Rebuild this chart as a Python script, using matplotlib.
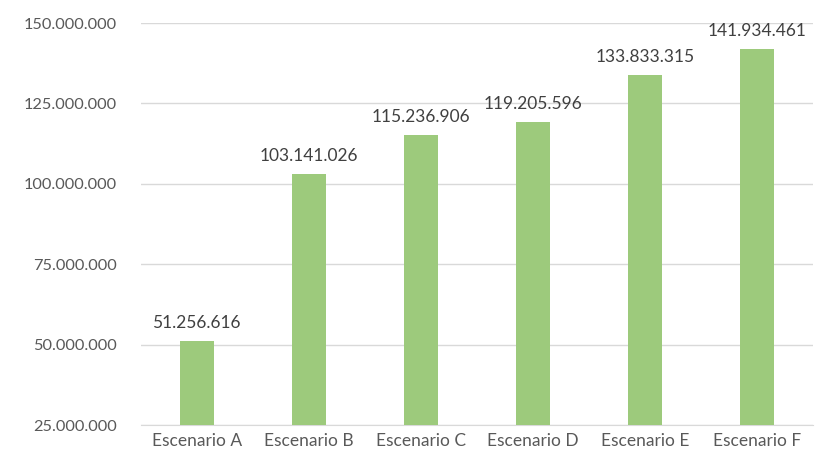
import matplotlib
matplotlib.use("Agg")
import matplotlib.pyplot as plt
from matplotlib.ticker import FuncFormatter

categories = ["Escenario A", "Escenario B", "Escenario C", "Escenario D", "Escenario E", "Escenario F"]
values = [51256616, 103141026, 115236906, 119205596, 133833315, 141934461]
y_ticks = [25000000, 50000000, 75000000, 100000000, 125000000, 150000000]

def fmt_thousands(v):
    return f"{int(round(v)):,}".replace(",", ".")

plt.rcParams["font.family"] = ["Lato", "DejaVu Sans"]

fig = plt.figure(figsize=(8.23, 4.62), dpi=100)
ax = fig.add_axes([0.171, 0.080, 0.817, 0.870])

x = list(range(len(categories)))
bars = ax.bar(x, values, width=0.3, color="#9dca7c", zorder=3)

ax.set_xlim(-0.5, len(categories) - 0.5)
ax.set_ylim(y_ticks[0], y_ticks[-1])
ax.set_yticks(y_ticks)
ax.yaxis.set_major_formatter(FuncFormatter(lambda v, p: fmt_thousands(v)))
ax.set_xticks(x)
ax.set_xticklabels(categories)

ax.grid(axis="y", color="#d9d9d9", linewidth=1, zorder=0)
for s in ["top", "right", "left"]:
    ax.spines[s].set_visible(False)
ax.spines["bottom"].set_color("#d9d9d9")
ax.tick_params(axis="both", length=0, colors="#595959")
ax.tick_params(axis="y", pad=17, labelsize=11.8)
ax.tick_params(axis="x", pad=6, labelsize=12.5)

for xi, v in zip(x, values):
    ax.annotate(fmt_thousands(v), (xi, v), xytext=(0, 7), textcoords="offset points",
                ha="center", va="bottom", fontsize=12.5, color="#404040")

fig.savefig("out.png", dpi=100)
